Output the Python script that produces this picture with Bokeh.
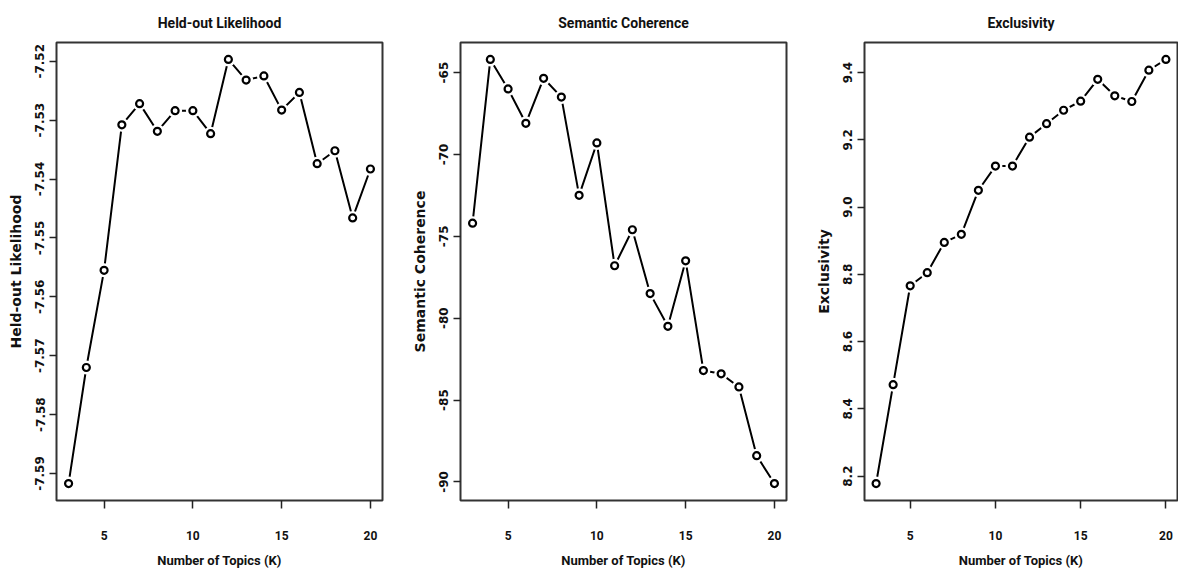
from bokeh.plotting import figure
from bokeh.layouts import row
from bokeh.models import FixedTicker, Range1d, BasicTickFormatter
from bokeh.embed import file_html
from bokeh.resources import INLINE

# ---- data ----
topics_k = [3, 4, 5, 6, 7, 8, 9, 10, 11, 12, 13, 14, 15, 16, 17, 18, 19, 20]

heldout = [-7.5917, -7.5720, -7.5555, -7.5308, -7.5272, -7.5319, -7.5284, -7.5284,
           -7.5323, -7.5197, -7.5232, -7.5225, -7.5283, -7.5253, -7.5374, -7.5352,
           -7.5466, -7.5383]

semcoh = [-74.2, -64.2, -66.0, -68.1, -65.35, -66.5, -72.5, -69.3, -76.8, -74.6,
          -78.5, -80.5, -76.5, -83.2, -83.4, -84.2, -88.4, -90.1]

exclus = [8.178, 8.472, 8.766, 8.805, 8.895, 8.919, 9.050, 9.122, 9.122, 9.208,
          9.248, 9.288, 9.315, 9.380, 9.331, 9.314, 9.407, 9.439]

x_ticks = [5, 10, 15, 20]
x_tick_labels = ["5", "10", "15", "20"]

heldout_ticks = [-7.59, -7.58, -7.57, -7.56, -7.55, -7.54, -7.53, -7.52]
heldout_tick_labels = ["-7.59", "-7.58", "-7.57", "-7.56", "-7.55", "-7.54", "-7.53", "-7.52"]

semcoh_ticks = [-90, -85, -80, -75, -70, -65]
semcoh_tick_labels = ["-90", "-85", "-80", "-75", "-70", "-65"]

exclus_ticks = [8.2, 8.4, 8.6, 8.8, 9.0, 9.2, 9.4]
exclus_tick_labels = ["8.2", "8.4", "8.6", "8.8", "9.0", "9.2", "9.4"]

titles = ["Held-out Likelihood", "Semantic Coherence", "Exclusivity"]
y_labels = ["Held-out Likelihood", "Semantic Coherence", "Exclusivity"]
x_label = "Number of Topics (K)"

NARROW = "Roboto"
WIDE = "DejaVu Sans"


def ext_range(vals, frac=0.04):
    lo, hi = min(vals), max(vals)
    d = (hi - lo) * frac
    return lo - d, hi + d


def panel(title, ylab, k, vals, yticks, ylabels, precision, width, bl, br):
    x0, x1 = ext_range(k)
    y0, y1 = ext_range(vals)
    p = figure(width=width, height=572, output_backend="svg", toolbar_location=None,
               x_range=Range1d(x0, x1), y_range=Range1d(y0, y1),
               min_border_left=bl, min_border_right=br,
               min_border_top=42, min_border_bottom=72,
               title=title)
    p.title.align = "center"
    p.title.text_font = NARROW
    p.title.text_font_style = "bold"
    p.title.text_font_size = "14px"
    p.title.text_color = "#111111"
    p.title.standoff = 23

    p.grid.visible = False
    p.outline_line_color = "#333333"
    p.outline_line_width = 2
    p.background_fill_color = "white"
    p.border_fill_color = "white"

    # x axis
    xa = p.xaxis[0]
    xa.ticker = FixedTicker(ticks=x_ticks)
    xa.major_label_overrides = {t: s for t, s in zip(x_ticks, x_tick_labels)}
    xa.axis_line_color = None
    xa.major_tick_out = 8
    xa.major_tick_in = 0
    xa.major_tick_line_width = 1.5
    xa.major_tick_line_color = "#222222"
    xa.minor_tick_line_color = None
    xa.major_label_standoff = 22
    xa.major_label_text_font = NARROW
    xa.major_label_text_font_style = "bold"
    xa.major_label_text_font_size = "12px"
    xa.major_label_text_color = "#111111"
    xa.axis_label = x_label
    xa.axis_label_standoff = 10
    xa.axis_label_text_font = NARROW
    xa.axis_label_text_font_style = "bold"
    xa.axis_label_text_font_size = "13px"
    xa.axis_label_text_color = "#111111"

    # y axis
    ya = p.yaxis[0]
    ya.ticker = FixedTicker(ticks=yticks)
    ya.formatter = BasicTickFormatter(precision=precision)
    ya.major_label_overrides = {t: s for t, s in zip(yticks, ylabels)}
    ya.axis_line_color = None
    ya.major_tick_out = 7
    ya.major_tick_in = 0
    ya.major_tick_line_width = 1.5
    ya.major_tick_line_color = "#222222"
    ya.minor_tick_line_color = None
    ya.major_label_orientation = "vertical"
    ya.major_label_standoff = 5
    ya.major_label_text_font = WIDE
    ya.major_label_text_font_style = "bold"
    ya.major_label_text_font_size = "12px"
    ya.major_label_text_color = "#111111"
    ya.axis_label = ylab
    ya.axis_label_standoff = 9
    ya.axis_label_text_font = WIDE
    ya.axis_label_text_font_style = "bold"
    ya.axis_label_text_font_size = "14px"
    ya.axis_label_text_color = "#111111"

    # type = "b": line, white gaps around points, open circles
    p.line(k, vals, line_width=2, line_color="black")
    p.scatter(k, vals, size=14, fill_color="white", line_color=None)
    p.scatter(k, vals, size=7, fill_color=None, line_color="black", line_width=2.2)
    return p


p1 = panel(titles[0], y_labels[0], topics_k, heldout, heldout_ticks, heldout_tick_labels, 2, 390, 56, 8)
p2 = panel(titles[1], y_labels[1], topics_k, semcoh, semcoh_ticks, semcoh_tick_labels, 0, 398, 70, 2)
p3 = panel(titles[2], y_labels[2], topics_k, exclus, exclus_ticks, exclus_tick_labels, 1, 390, 76, 1)

layout = row(p1, p2, p3)
open("out.html", "w").write(file_html(layout, INLINE))
